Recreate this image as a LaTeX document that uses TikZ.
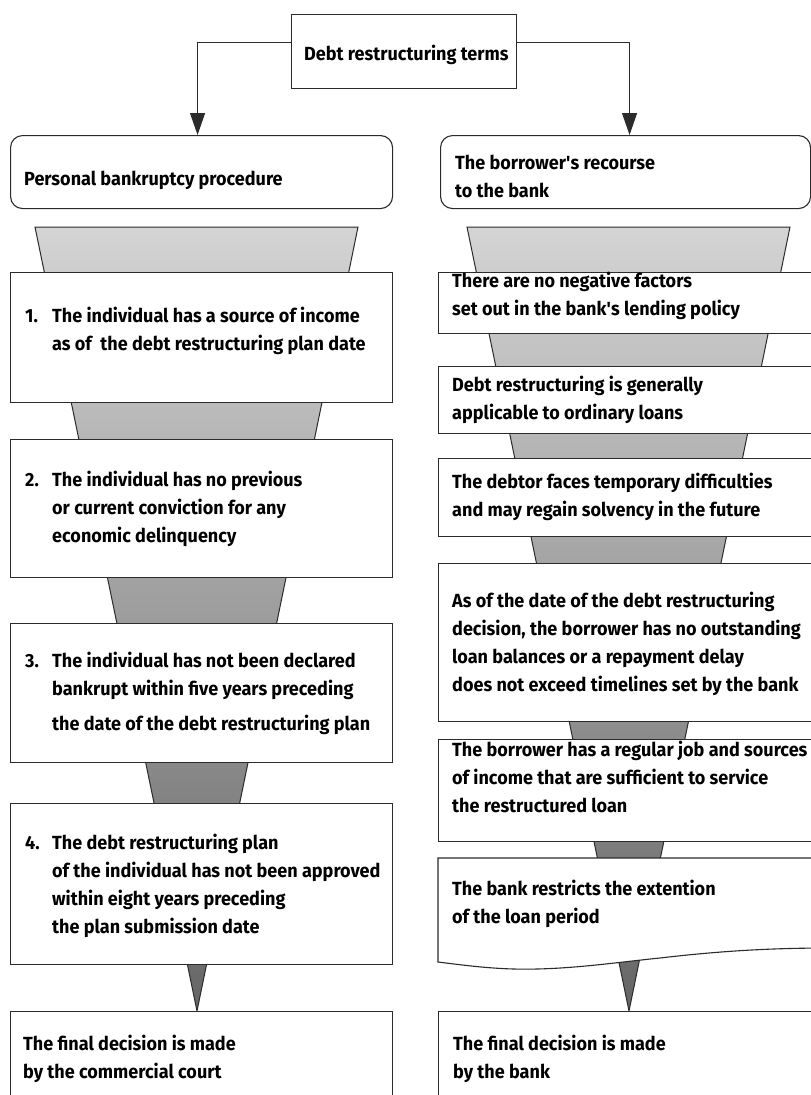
\documentclass[tikz,border=0pt]{standalone}
\usepackage{fontspec}
\setmainfont{Fira Sans}[FakeStretch=0.95]
\usetikzlibrary{arrows.meta}

\definecolor{edgegray}{HTML}{2B2B2B}
\definecolor{funneltop}{HTML}{D4D4D4}
\definecolor{funnelbot}{HTML}{656565}

\tikzset{
  box/.style={draw=edgegray, line width=1.1pt, fill=white, inner sep=0pt, anchor=north west},
  headbox/.style={box, rounded corners=12pt},
  txt/.style={anchor=west, align=left, inner sep=0pt, font=\fontsize{19}{28}\selectfont\bfseries},
  flow/.style={draw=edgegray, line width=1.1pt, -{Triangle[length=22pt,width=15pt]}},
  funnel/.style={draw=edgegray, line width=1pt, top color=funneltop, bottom color=funnelbot}
}
\newcommand{\num}[1]{\makebox[27pt][l]{#1}}
\newcommand{\ind}{\hspace*{27pt}}

\begin{document}
\begin{tikzpicture}[x=1pt, y=-1pt]
\useasboundingbox (0,0) rectangle (811,1095);
\clip (0,0) rectangle (811,1095);

% funnels behind the columns
\shadedraw[funnel] (35,227) -- (358,227) -- (197,1011) -- cycle;
\shadedraw[funnel] (467,227) -- (790,227) -- (629,1011) -- cycle;

% top and column heads
\node[box, minimum width=225, minimum height=74] (top) at (291,14) {};
\node[txt] (topt) at (304,55) {Debt restructuring terms};
\node[headbox, minimum width=382, minimum height=73] (lhead) at (10,135) {};
\node[headbox, minimum width=370, minimum height=73] (rhead) at (440,135) {};
\node[txt] (lheadt) at (24,180) {Personal bankruptcy procedure};
\node[txt] (rheadt) at (455,176) {The borrower\textquotesingle s recourse\\ to the bank};

\draw[flow] ([yshift=9]top.west) -| ([xshift=-4]lhead.north);
\draw[flow] ([yshift=9]top.east) -| ([xshift=4]rhead.north);

% left column
\node[box, minimum width=382, minimum height=130] (l1) at (10,272) {};
\node[box, minimum width=382, minimum height=138] (l2) at (10,439) {};
\node[box, minimum width=382, minimum height=139] (l3) at (10,623) {};
\node[box, minimum width=382, minimum height=161] (l4) at (10,803) {};
\node[box, minimum width=382, minimum height=120] (l5) at (10,1011) {};

\node[txt] (l1t) at (25,331) {\num{1.}The individual has a source of income\\\ind as of\ \ the debt restructuring plan date};
\node[txt] (l2t) at (25,509) {\num{2.}The individual has no previous\\\ind or current conviction for any\\\ind economic delinquency};
\node[txt] (l3t) at (25,693) {\num{3.}The individual has not been declared\\\ind bankrupt within five years preceding\\[7pt]\ind the date of the debt restructuring plan};
\node[txt] (l4t) at (25,886) {\num{4.}The debt restructuring plan\\\ind of the individual has not been approved\\\ind within eight years preceding\\\ind the plan submission date};
\node[txt] (l5t) at (23,1059) {The final decision is made\\by the commercial court};

% right column
\node[box, minimum width=392, minimum height=61] (r1) at (438,272) {};
\node[box, minimum width=392, minimum height=67] (r2) at (438,366) {};
\node[box, minimum width=392, minimum height=78] (r3) at (438,458) {};
\node[box, minimum width=392, minimum height=158] (r4) at (438,563) {};
\node[box, minimum width=392, minimum height=102] (r5) at (438,739) {};
\draw[draw=edgegray, line width=1.1pt, fill=white] (438,858) -- (830,858) -- (830,948)
  .. controls (770,948) and (720,951) .. (660,958)
  .. controls (620,962) and (580,968) .. (537,969)
  .. controls (500,970) and (470,966) .. (438,962) -- cycle;
\node[box, minimum width=392, minimum height=120] (r7) at (438,1011) {};

\node[txt] (r1t) at (452,296) {There are no negative factors\\set out in the bank\textquotesingle s lending policy};
\node[txt] (r2t) at (452,400) {Debt restructuring is generally\\applicable to ordinary loans};
\node[txt] (r3t) at (452,497) {The debtor faces temporary difficulties\\and may regain solvency in the future};
\node[txt] (r4t) at (452,644) {As of the date of the debt restructuring\\decision, the borrower has no outstanding\\loan balances or a repayment delay\\does not exceed timelines set by the bank};
\node[txt] (r5t) at (452,777) {The borrower has a regular job and sources\\of income that are sufficient to service\\the restructured loan};
\node[txt] (r6t) at (452,904) {The bank restricts the extention\\of the loan period};
\node[txt] (r7t) at (453,1059) {The final decision is made\\by the bank};
\end{tikzpicture}
\end{document}
